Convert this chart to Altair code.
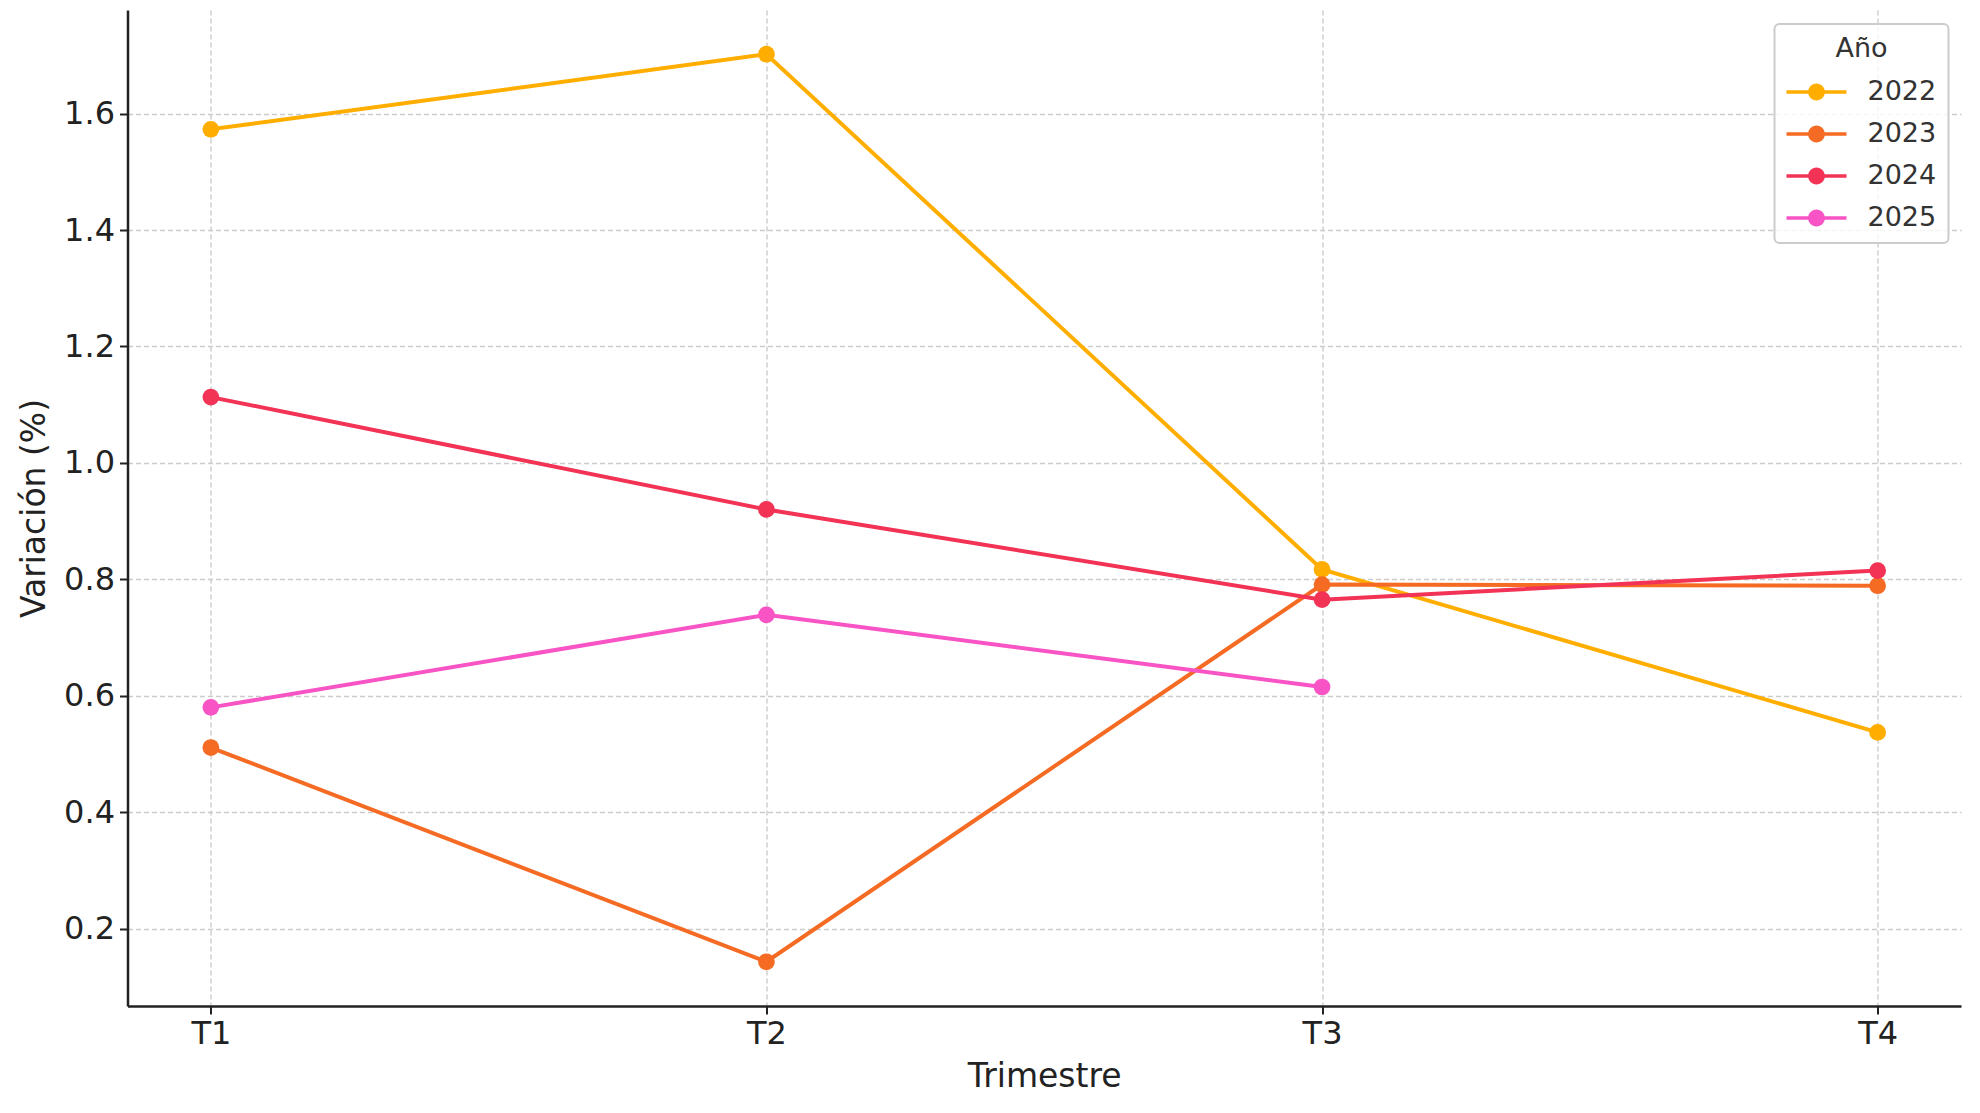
import altair as alt
import pandas as pd

trimestres = ["T1", "T2", "T3", "T4"]
years = ["2022", "2023", "2024", "2025"]
v2022 = [1.573, 1.702, 0.817, 0.537]
v2023 = [0.511, 0.143, 0.791, 0.789]
v2024 = [1.113, 0.920, 0.765, 0.815]
v2025 = [0.580, 0.739, 0.615]
colors = ["#FFAE00", "#F56B23", "#F23355", "#F854C5"]

rows = []
for y, vals in zip(years, [v2022, v2023, v2024, v2025]):
    for t, v in zip(trimestres, vals):
        rows.append({"Trimestre": t, "Año": y, "Variación": v})
df = pd.DataFrame(rows)

FONT = "DejaVu Sans"
sym_path = ("M -1 -0.12 L 3 -0.12 L 3 0.12 L -1 0.12 Z "
            "M 1.56 0 A 0.56 0.56 0 1 1 0.44 0 A 0.56 0.56 0 1 1 1.56 0 Z")

x_enc = alt.X("Trimestre:N", sort=trimestres,
              scale=alt.Scale(type="point", padding=0.15),
              axis=alt.Axis(title="Trimestre", labelAngle=0))
y_enc = alt.Y("Variación:Q",
              scale=alt.Scale(domain=[0.067, 1.778], nice=False, zero=False),
              axis=alt.Axis(title="Variación (%)", values=[0.2, 0.4, 0.6, 0.8, 1.0, 1.2, 1.4, 1.6],
                            format=".1f"))
color_scale = alt.Scale(domain=years, range=colors)

legend = alt.Legend(
    title="Año", orient="none", legendX=1647, legendY=14,
    symbolType=sym_path, symbolSize=900, symbolStrokeWidth=0,
    symbolOpacity=1, labelOffset=51, rowPadding=14,
    labelFont=FONT, labelFontSize=27, labelColor="#333333",
    titleFont=FONT, titleFontSize=27, titleFontWeight="normal",
    titleColor="#333333", titleAnchor="middle", titlePadding=14,
    padding=12, cornerRadius=5, strokeColor="#cccccc",
    fillColor="rgba(255,255,255,0.8)",
)

lines = alt.Chart(df).mark_line(strokeWidth=4).encode(
    x=x_enc, y=y_enc,
    color=alt.Color("Año:N", scale=color_scale, legend=legend),
)
points = alt.Chart(df).mark_point(filled=True, size=280, opacity=1).encode(
    x=x_enc, y=y_enc,
    color=alt.Color("Año:N", scale=color_scale, legend=legend),
)

chart = alt.layer(lines, points).properties(
    width=1833.5, height=996,
    autosize=alt.AutoSizeParams(type="none"),
    padding={"left": 119.5, "top": 2, "right": 5, "bottom": 90},
).configure_view(stroke=None).configure_axis(
    labelFont=FONT, labelFontSize=32, labelColor="#222222",
    titleFont=FONT, titleFontSize=33, titleFontWeight="normal", titleColor="#222222",
    domainColor="#222222", domainWidth=2.5,
    tickColor="#222222", tickWidth=2, tickSize=8,
    grid=True, gridColor="#cccccc", gridDash=[5, 3], gridWidth=1.4,
).configure_axisX(
    labelPadding=4, titlePadding=11,
).configure_axisY(
    labelPadding=5, titlePadding=12,
).configure_legend(strokeWidth=2)

chart.save("out.html", embed_options={"renderer": "svg", "actions": False})
